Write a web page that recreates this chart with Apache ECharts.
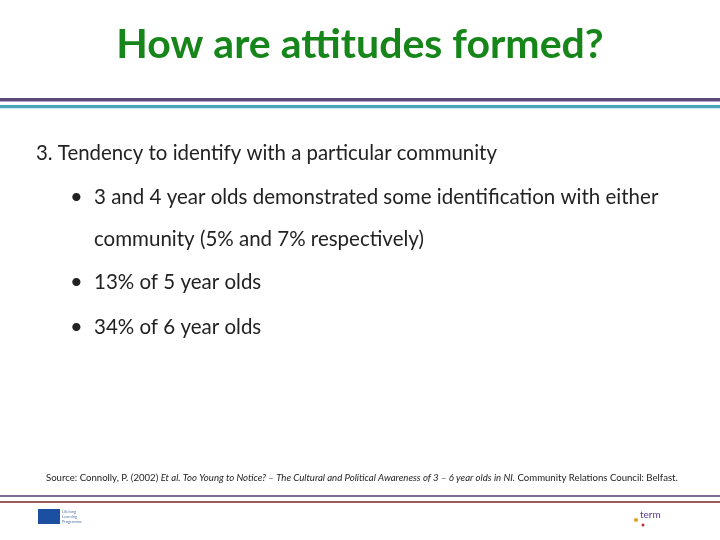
<!DOCTYPE html>
<html><head><meta charset="utf-8">
<script src="https://cdn.jsdelivr.net/npm/echarts@6/dist/echarts.min.js"></script>
<style>html,body{margin:0;padding:0;background:#fff}#c{width:720px;height:540px}</style>
</head><body><div id="c"></div>
<script>
const titleText = 'How are attitudes formed?';
const headingText = '3. Tendency to identify with a particular community';
const bulletLines = [
  ['3 and 4 year olds demonstrated some identification with either', 'community (5% and 7% respectively)'],
  ['13% of 5 year olds'],
  ['34% of 6 year olds']
];
const sourceParts = [
  {t:'Source: Connolly, P. (2002) ', s:'n'},
  {t:'Et al. Too Young to Notice? – The Cultural and Political Awareness of 3 – 6 year olds in NI.', s:'i'},
  {t:' Community Relations Council: Belfast.', s:'n'}
];
const F = 'Lato, "Open Sans", sans-serif';
const chart = echarts.init(document.getElementById('c'));
const g = [];
g.push({type:'text', left:'center', top:24, style:{text:titleText, font:'bold 41px '+F, fill:'#17861a'}});
g.push({type:'rect', shape:{x:0,y:98,width:720,height:3}, style:{fill:'#5b4a7a'}});
g.push({type:'rect', shape:{x:0,y:101,width:720,height:1}, style:{fill:'#b0a8c8'}});
g.push({type:'rect', shape:{x:0,y:105,width:720,height:3}, style:{fill:'#4aa3b8'}});
g.push({type:'rect', shape:{x:0,y:108,width:720,height:1}, style:{fill:'#c8eef5'}});
g.push({type:'text', left:36, top:143, style:{text:headingText, font:'20.4px '+F, fill:'#222'}});
const tops = [[187,229],[272],[317]];
bulletLines.forEach((lines,i)=>{
  g.push({type:'text', left:70, top:tops[i][0]-1, style:{text:'•', font:'22px '+F, fill:'#222'}});
  lines.forEach((l,j)=>g.push({type:'text', left:94, top:tops[i][j], style:{text:l, font:'20.5px '+F, fill:'#222'}}));
});
g.push({type:'text', left:46, top:473, style:{text:'{n|'+sourceParts[0].t+'}{i|'+sourceParts[1].t+'}{n|'+sourceParts[2].t+'}',
  rich:{n:{font:'9.6px '+F, fill:'#222'}, i:{font:'italic 9.6px '+F, fill:'#222'}}}});
g.push({type:'rect', shape:{x:0,y:495,width:720,height:2}, style:{fill:'#7a6a96'}});
g.push({type:'rect', shape:{x:0,y:501,width:720,height:2}, style:{fill:'#9a5a5a'}});
g.push({type:'rect', shape:{x:38,y:509,width:22,height:15}, style:{fill:'#1d4fa0'}});
g.push({type:'text', left:62, top:509, style:{text:'Lifelong\nLearning\nProgramme', font:'4px '+F, fill:'#5577aa', lineHeight:5}});
g.push({type:'text', left:640, top:510, style:{text:'term', font:'10px '+F, fill:'#5a3a8a'}});
g.push({type:'circle', shape:{cx:636,cy:520,r:2}, style:{fill:'#e0a020'}});
g.push({type:'circle', shape:{cx:643,cy:525,r:1.5}, style:{fill:'#c03030'}});
chart.setOption({graphic:g});
</script></body></html>
